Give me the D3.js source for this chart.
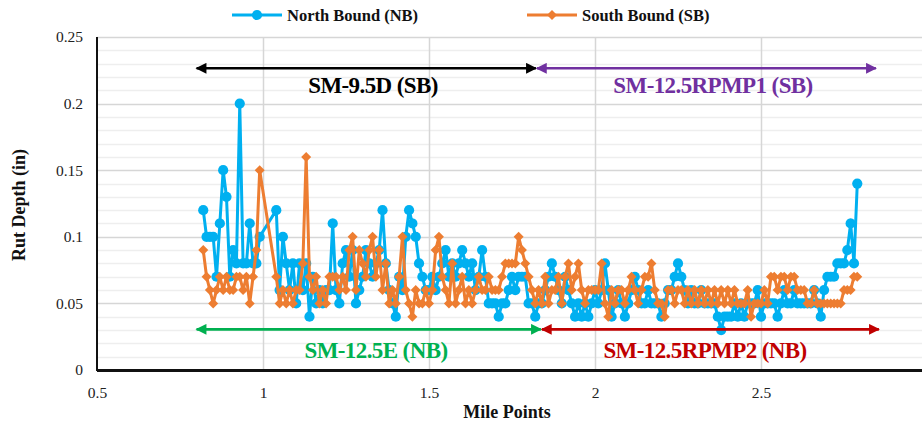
<!DOCTYPE html>
<html>
<head>
<meta charset="utf-8">
<script src="https://cdn.jsdelivr.net/npm/d3@7/dist/d3.min.js"></script>
<style>
  html, body { margin: 0; padding: 0; background: #fff; overflow: hidden; }
  svg { display: block; }
  text { font-family: "Liberation Serif", "Times New Roman", serif; }
</style>
</head>
<body>
<svg id="chart" width="922" height="425"></svg>
<script>
// Survey mile points (0.01 mi spacing, no readings between 0.99 and 1.04)
const milePoints = [
  0.82,0.83,0.84,0.85,0.86,0.87,0.88,0.89,0.90,0.91,0.92,0.93,0.94,0.95,0.96,0.97,0.98,0.99,
  1.04,1.05,1.06,1.07,1.08,1.09,1.10,1.11,1.12,1.13,1.14,1.15,1.16,1.17,1.18,1.19,1.20,
  1.21,1.22,1.23,1.24,1.25,1.26,1.27,1.28,1.29,1.30,1.31,1.32,1.33,1.34,1.35,1.36,1.37,1.38,1.39,1.40,
  1.41,1.42,1.43,1.44,1.45,1.46,1.47,1.48,1.49,1.50,1.51,1.52,1.53,1.54,1.55,1.56,1.57,1.58,1.59,1.60,
  1.61,1.62,1.63,1.64,1.65,1.66,1.67,1.68,1.69,1.70,1.71,1.72,1.73,1.74,1.75,1.76,1.77,1.78,1.79,1.80,
  1.81,1.82,1.83,1.84,1.85,1.86,1.87,1.88,1.89,1.90,1.91,1.92,1.93,1.94,1.95,1.96,1.97,1.98,1.99,2.00,
  2.01,2.02,2.03,2.04,2.05,2.06,2.07,2.08,2.09,2.10,2.11,2.12,2.13,2.14,2.15,2.16,2.17,2.18,2.19,2.20,
  2.21,2.22,2.23,2.24,2.25,2.26,2.27,2.28,2.29,2.30,2.31,2.32,2.33,2.34,2.35,2.36,2.37,2.38,2.39,2.40,
  2.41,2.42,2.43,2.44,2.45,2.46,2.47,2.48,2.49,2.50,2.51,2.52,2.53,2.54,2.55,2.56,2.57,2.58,2.59,2.60,
  2.61,2.62,2.63,2.64,2.65,2.66,2.67,2.68,2.69,2.70,2.71,2.72,2.73,2.74,2.75,2.76,2.77,2.78,2.79
];

// North Bound rut depth (in)
const northBound = [
  0.12,0.10,0.10,0.10,0.07,0.11,0.15,0.13,0.07,0.09,0.08,0.20,0.08,0.08,0.11,0.08,0.08,0.10,
  0.12,0.06,0.10,0.08,0.06,0.08,0.05,0.08,0.06,0.08,0.04,0.07,0.05,0.06,0.05,0.06,0.06,
  0.11,0.06,0.05,0.08,0.09,0.07,0.09,0.05,0.06,0.07,0.09,0.08,0.07,0.08,0.09,0.12,0.08,0.06,0.05,0.04,
  0.07,0.06,0.10,0.12,0.11,0.10,0.08,0.07,0.06,0.06,0.07,0.06,0.07,0.08,0.09,0.07,0.08,0.07,0.08,0.09,
  0.08,0.07,0.08,0.06,0.07,0.09,0.07,0.05,0.05,0.05,0.04,0.05,0.05,0.06,0.07,0.06,0.07,0.07,0.07,0.05,
  0.05,0.04,0.05,0.05,0.06,0.07,0.08,0.07,0.06,0.05,0.07,0.06,0.05,0.04,0.05,0.04,0.05,0.04,0.05,0.06,
  0.05,0.06,0.08,0.06,0.04,0.05,0.06,0.05,0.04,0.05,0.06,0.07,0.06,0.05,0.05,0.06,0.05,0.05,0.05,0.04,
  0.05,0.06,0.06,0.07,0.08,0.07,0.06,0.05,0.06,0.05,0.05,0.06,0.05,0.05,0.05,0.05,0.04,0.03,0.04,0.04,
  0.04,0.05,0.04,0.05,0.04,0.05,0.05,0.05,0.06,0.04,0.05,0.05,0.05,0.05,0.04,0.05,0.06,0.05,0.05,0.06,
  0.05,0.05,0.05,0.05,0.05,0.06,0.05,0.04,0.06,0.07,0.07,0.07,0.08,0.08,0.08,0.09,0.11,0.08,0.14
];

// South Bound rut depth (in)
const southBound = [
  0.09,0.07,0.06,0.05,0.06,0.07,0.06,0.07,0.06,0.06,0.07,0.07,0.06,0.07,0.05,0.07,0.09,0.15,
  0.07,0.05,0.06,0.05,0.06,0.05,0.06,0.06,0.08,0.16,0.07,0.06,0.07,0.05,0.06,0.05,0.07,
  0.07,0.07,0.06,0.07,0.06,0.09,0.10,0.06,0.09,0.08,0.07,0.09,0.10,0.07,0.09,0.06,0.08,0.05,0.06,0.05,
  0.07,0.10,0.06,0.05,0.04,0.06,0.05,0.05,0.06,0.05,0.06,0.09,0.10,0.07,0.06,0.05,0.08,0.05,0.06,0.07,
  0.05,0.06,0.05,0.06,0.07,0.06,0.06,0.07,0.06,0.06,0.06,0.07,0.08,0.08,0.08,0.08,0.10,0.09,0.08,0.07,
  0.06,0.05,0.06,0.05,0.07,0.05,0.06,0.06,0.07,0.05,0.07,0.08,0.06,0.07,0.08,0.06,0.05,0.06,0.06,0.06,
  0.06,0.08,0.05,0.04,0.06,0.05,0.06,0.06,0.05,0.06,0.07,0.06,0.05,0.06,0.07,0.07,0.08,0.06,0.05,0.05,
  0.04,0.06,0.06,0.05,0.06,0.06,0.05,0.06,0.05,0.06,0.05,0.06,0.05,0.06,0.05,0.06,0.05,0.06,0.05,0.06,
  0.05,0.06,0.05,0.05,0.05,0.06,0.04,0.05,0.05,0.05,0.06,0.05,0.07,0.07,0.06,0.07,0.07,0.06,0.07,0.07,
  0.06,0.06,0.06,0.05,0.05,0.06,0.05,0.05,0.05,0.05,0.05,0.05,0.05,0.05,0.06,0.06,0.06,0.07,0.07
];

const xTicks = [0.5, 1, 1.5, 2, 2.5];
const yTicks = [0, 0.05, 0.1, 0.15, 0.2, 0.25];
const yMinorTicks = d3.range(1, 25).map(i => i / 100);

// Pavement sections along the corridor
const sectionNames = ["SM-9.5D (SB)", "SM-12.5RPMP1 (SB)", "SM-12.5E (NB)", "SM-12.5RPMP2 (NB)"];
const sectionStart = [0.80, 1.825, 0.80, 1.84];
const sectionEnd = [1.822, 2.846, 1.837, 2.855];
const sectionLevel = [0.2265, 0.2265, 0.0305, 0.0305];
const sectionColors = ["#000000", "#7030A0", "#00B050", "#C00000"];

const series = [
  { name: "North Bound (NB)", values: northBound, color: "#00B0F0", shape: "circle" },
  { name: "South Bound (SB)", values: southBound, color: "#ED7D31", shape: "diamond" }
];

const svg = d3.select("#chart");
const W = 922;

const x = d3.scaleLinear().domain([0.5, 3]).range([97, 927]);
const y = d3.scaleLinear().domain([0, 0.25]).range([370, 37]);

// Grid: minor horizontal, major horizontal, vertical
const grid = svg.append("g");
grid.selectAll("line.minor").data(yMinorTicks.filter(v => Math.round(v * 100) % 5 !== 0))
  .join("line").attr("class", "minor")
  .attr("x1", x(0.5)).attr("x2", W)
  .attr("y1", d => Math.round(y(d)) + 0.5).attr("y2", d => Math.round(y(d)) + 0.5)
  .attr("stroke", "#eeeeee").attr("stroke-width", 1.5);
grid.selectAll("line.major").data(yTicks.filter(v => v > 0))
  .join("line").attr("class", "major")
  .attr("x1", x(0.5)).attr("x2", W)
  .attr("y1", d => Math.round(y(d)) + 0.5).attr("y2", d => Math.round(y(d)) + 0.5)
  .attr("stroke", "#d6d6d6").attr("stroke-width", 1.5);
grid.selectAll("line.vert").data(xTicks.filter(v => v > 0.5))
  .join("line").attr("class", "vert")
  .attr("x1", d => Math.round(x(d)) + 0.5).attr("x2", d => Math.round(x(d)) + 0.5)
  .attr("y1", y(0.25)).attr("y2", y(0))
  .attr("stroke", "#d6d6d6").attr("stroke-width", 1.5);

// Axes
const yAxis = d3.axisLeft(y).tickValues(yTicks).tickSize(0).tickPadding(14)
  .tickFormat(d => d === 0 ? "0" : String(+d.toFixed(2)));
const gy = svg.append("g").attr("transform", `translate(${x(0.5)},0)`).call(yAxis);
gy.select(".domain").remove();
gy.selectAll("text").attr("font-size", 15.5).attr("fill", "#222")
  .style("font-family", "'Liberation Serif', serif");

const xAxis = d3.axisBottom(x).tickValues(xTicks).tickSize(0).tickPadding(17)
  .tickFormat(d => String(d));
const gx = svg.append("g").attr("transform", `translate(0,${y(0)})`).call(xAxis);
gx.select(".domain").remove();
gx.selectAll("text").attr("font-size", 15.5).attr("fill", "#222")
  .style("font-family", "'Liberation Serif', serif");

// Plot frame lines
svg.append("line").attr("x1", x(0.5)).attr("x2", x(0.5)).attr("y1", y(0.25)).attr("y2", y(0) + 1)
  .attr("stroke", "#111").attr("stroke-width", 2);
svg.append("line").attr("x1", x(0.5)).attr("x2", W).attr("y1", y(0) + 0.5).attr("y2", y(0) + 0.5)
  .attr("stroke", "#111").attr("stroke-width", 3);

// Axis titles
svg.append("text").attr("x", 507).attr("y", 418).attr("text-anchor", "middle")
  .attr("font-size", 18).attr("font-weight", "bold").attr("fill", "#111").text("Mile Points");
svg.append("text").attr("transform", "translate(25,205) rotate(-90)").attr("text-anchor", "middle")
  .attr("font-size", 18).attr("font-weight", "bold").attr("fill", "#111").text("Rut Depth (in)");

// Series
const line = d3.line().x(d => x(d[0])).y(d => y(d[1]));
const symCircle = d3.symbol().type(d3.symbolCircle).size(82);
const diamond = s => `M0,${-s}L${s},0L0,${s}L${-s},0Z`;

series.forEach(s => {
  const pts = milePoints.map((m, i) => [m, s.values[i]]);
  const g = svg.append("g");
  g.append("path").datum(pts).attr("d", line)
    .attr("fill", "none").attr("stroke", s.color).attr("stroke-width", 3)
    .attr("stroke-linejoin", "round");
  g.selectAll("path.mk").data(pts).join("path").attr("class", "mk")
    .attr("transform", d => `translate(${x(d[0])},${y(d[1])})`)
    .attr("d", s.shape === "circle" ? symCircle() : diamond(5))
    .attr("fill", s.color);
});

// Section span arrows
const defs = svg.append("defs");
sectionColors.forEach((c, i) => {
  ["s", "e"].forEach(end => {
    defs.append("marker").attr("id", `ar${i}${end}`)
      .attr("viewBox", "0 0 10 10").attr("refX", end === "e" ? 9 : 1).attr("refY", 5)
      .attr("markerWidth", 4.4).attr("markerHeight", 4.2).attr("markerUnits", "strokeWidth")
      .attr("orient", "auto")
      .append("path").attr("d", end === "e" ? "M0,0L10,5L0,10Z" : "M10,0L0,5L10,10Z")
      .attr("fill", c);
  });
});
const ann = svg.append("g");
sectionNames.forEach((name, i) => {
  const ly = y(sectionLevel[i]);
  ann.append("line")
    .attr("x1", x(sectionStart[i])).attr("x2", x(sectionEnd[i]))
    .attr("y1", ly).attr("y2", ly)
    .attr("stroke", sectionColors[i]).attr("stroke-width", 2.6)
    .attr("marker-start", `url(#ar${i}s)`).attr("marker-end", `url(#ar${i}e)`);
});
const labelX = [373, 713, 376, 705];
const labelY = [93, 93, 358, 358];
sectionNames.forEach((name, i) => {
  ann.append("text").attr("x", labelX[i]).attr("y", labelY[i]).attr("text-anchor", "middle")
    .attr("font-size", 23).attr("font-weight", "bold").attr("letter-spacing", -0.6)
    .attr("fill", sectionColors[i]).text(name);
});

// Legend
const legX = [232, 527];
series.forEach((s, i) => {
  const g = svg.append("g").attr("transform", `translate(${legX[i]},15)`);
  g.append("line").attr("x1", 0).attr("x2", 50).attr("y1", 0).attr("y2", 0)
    .attr("stroke", s.color).attr("stroke-width", 3);
  g.append("path").attr("transform", "translate(25,0)")
    .attr("d", s.shape === "circle" ? symCircle() : diamond(5)).attr("fill", s.color);
  g.append("text").attr("x", 55).attr("y", 6).attr("font-size", 16.5).attr("font-weight", "bold")
    .attr("fill", "#111").text(s.name);
});
</script>
</body>
</html>
